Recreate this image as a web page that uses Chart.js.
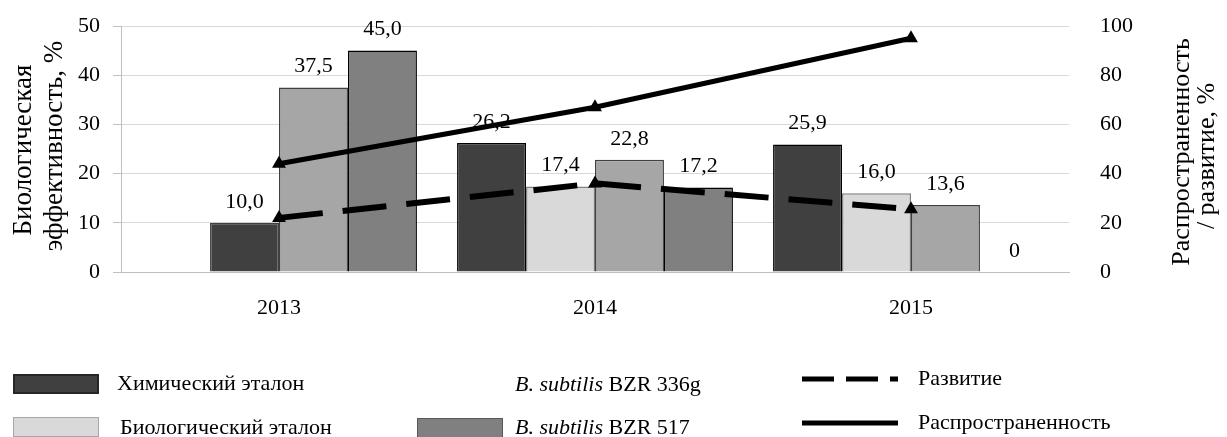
<!DOCTYPE html>
<html lang="ru">
<head>
  <meta charset="UTF-8">
  <title>Биологическая эффективность</title>
  <script src="https://cdn.jsdelivr.net/npm/chart.js"></script>
  <style>
    body { margin: 0; background: #fff; font-family: "Liberation Serif", "Times New Roman", serif; }
    #wrap { position: relative; width: 1227px; height: 437px; overflow: hidden; }
    #wrap canvas { position: absolute; left: 0; top: 0; }
    .lg { position: absolute; font-size: 22px; line-height: 26px; color: #000; white-space: nowrap; }
    .box { position: absolute; box-sizing: border-box; width: 86px; height: 20px; }
  </style>
</head>
<body>
  <div id="wrap">
    <canvas id="chart" width="1227" height="437"></canvas>

    <!-- легенда -->
    <div class="box" style="left:13px; top:374px; background:#404040; border:2px solid #262626;"></div>
    <div class="lg" style="left:117px; top:370px;">Химический эталон</div>
    <div class="box" style="left:13px; top:417px; background:#d9d9d9; border:1.5px solid #a6a6a6;"></div>
    <div class="lg" style="left:120px; top:414px;">Биологический эталон</div>

    <div class="lg" style="left:515px; top:371px;"><i>B. subtilis</i> BZR 336g</div>
    <div class="box" style="left:417px; top:418px; background:#808080; border:1.5px solid #595959;"></div>
    <div class="lg" style="left:515px; top:414px;"><i>B. subtilis</i> BZR 517</div>

    <svg style="position:absolute; left:800px; top:370px;" width="100" height="60">
      <line x1="2" y1="9" x2="98" y2="9" stroke="#000" stroke-width="5" stroke-dasharray="32 12"></line>
      <line x1="2" y1="53" x2="98" y2="53" stroke="#000" stroke-width="5"></line>
    </svg>
    <div class="lg" style="left:918px; top:365px;">Развитие</div>
    <div class="lg" style="left:918px; top:409px;">Распространенность</div>
  </div>

  <script>
    const years = ['2013', '2014', '2015'];

    // биологическая эффективность, % (левая ось)
    const chemStandard = [null, 26.2, 25.9];
    const bioStandard  = [10.0, 17.4, 16.0];
    const bzr336g      = [37.5, 22.8, 13.6];
    const bzr517       = [45.0, 17.2, 0];

    // распространенность / развитие, % (правая ось)
    const spread      = [44, 67, 95];
    const development = [22, 36, 25.5];

    const FONT = '"Liberation Serif", "Times New Roman", serif';

    // подписи над столбиками (рисуем до линий, чтобы линии шли поверх)
    const barLabels = {
      id: 'barLabels',
      afterDatasetDraw(chart, args) {
        const meta = args.meta;
        if (meta.type !== 'bar') return;
        const ctx = chart.ctx;
        const data = chart.data.datasets[args.index].data;
        ctx.save();
        ctx.font = '22px ' + FONT;
        ctx.fillStyle = '#000';
        ctx.textAlign = 'center';
        ctx.textBaseline = 'middle';
        meta.data.forEach((el, i) => {
          const v = data[i];
          if (v === null || v === undefined) return;
          const txt = v === 0 ? '0' : v.toFixed(1).replace('.', ',');
          ctx.fillText(txt, el.x, el.y - 21);
        });
        ctx.restore();
      }
    };

    // заголовки осей, обе читаются снизу вверх
    const axisTitles = {
      id: 'axisTitles',
      afterDraw(chart) {
        const ctx = chart.ctx;
        const put = (text, x, y) => {
          ctx.save();
          ctx.translate(x, y);
          ctx.rotate(-Math.PI / 2);
          ctx.fillText(text, 0, 0);
          ctx.restore();
        };
        ctx.save();
        ctx.font = '27px ' + FONT;
        ctx.fillStyle = '#000';
        ctx.textAlign = 'center';
        ctx.textBaseline = 'alphabetic';
        put('Биологическая', 31, 150);
        put('эффективность, %', 62, 146);
        ctx.font = '26px ' + FONT;
        put('Распространенность', 1189, 152);
        put('/ развитие, %', 1214, 156);
        ctx.restore();
      }
    };

    const ctx = document.getElementById('chart').getContext('2d');
    new Chart(ctx, {
      type: 'bar',
      data: {
        labels: years,
        datasets: [
          {
            type: 'line', label: 'Распространенность', data: spread, yAxisID: 'y2', order: 0,
            borderColor: '#000', borderWidth: 5, tension: 0,
            pointStyle: 'triangle', pointRadius: 8, pointBackgroundColor: '#000', pointBorderWidth: 0
          },
          {
            type: 'line', label: 'Развитие', data: development, yAxisID: 'y2', order: 0,
            borderColor: '#000', borderWidth: 6, borderDash: [44, 20], tension: 0,
            pointStyle: 'triangle', pointRadius: 8, pointBackgroundColor: '#000', pointBorderWidth: 0
          },
          {
            label: 'Химический эталон', data: chemStandard, order: 1,
            backgroundColor: '#404040', borderColor: '#000', borderWidth: 1.5
          },
          {
            label: 'Биологический эталон', data: bioStandard, order: 1,
            backgroundColor: ['#404040', '#d9d9d9', '#d9d9d9'],
            borderColor: ['#404040', '#7f7f7f', '#7f7f7f'], borderWidth: 1.5
          },
          {
            label: 'B. subtilis BZR 336g', data: bzr336g, order: 1,
            backgroundColor: '#a6a6a6', borderColor: '#404040', borderWidth: 1.5
          },
          {
            label: 'B. subtilis BZR 517', data: bzr517, order: 1,
            backgroundColor: '#808080', borderColor: '#000', borderWidth: 1.5
          }
        ]
      },
      options: {
        responsive: false,
        animation: false,
        datasets: { bar: { categoryPercentage: 0.873, barPercentage: 1 } },
        layout: { padding: { top: 26, left: 0, right: 0, bottom: 0 } },
        plugins: { legend: { display: false }, tooltip: { enabled: false } },
        scales: {
          x: {
            grid: { display: false },
            border: { color: '#bfbfbf' },
            ticks: { font: { family: FONT, size: 22 }, color: '#000', padding: 15 },
            afterFit(s) { s.height = 165; }
          },
          y: {
            position: 'left', min: 0, max: 50,
            grid: { color: '#d9d9d9', tickColor: '#bfbfbf', tickLength: 8 },
            border: { color: '#bfbfbf' },
            ticks: { stepSize: 10, font: { family: FONT, size: 22 }, color: '#000', padding: 13 },
            afterFit(s) { s.width = 121; s.paddingTop = 0; s.paddingBottom = 0; }
          },
          y2: {
            position: 'right', min: 0, max: 100,
            grid: { display: false },
            border: { display: false },
            ticks: { stepSize: 20, font: { family: FONT, size: 22 }, color: '#000', padding: 23 },
            afterFit(s) { s.width = 158; s.paddingTop = 0; s.paddingBottom = 0; }
          }
        }
      },
      plugins: [barLabels, axisTitles]
    });
  </script>
</body>
</html>
